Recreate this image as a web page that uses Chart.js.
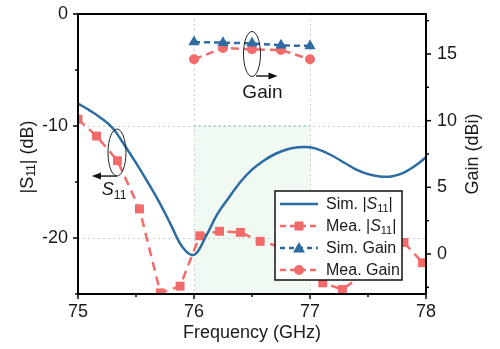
<!DOCTYPE html>
<html>
<head>
<meta charset="utf-8">
<script src="https://cdn.jsdelivr.net/npm/chart.js@4.4.0/dist/chart.umd.min.js"></script>
<style>
  html, body { margin: 0; padding: 0; background: #fff; }
</style>
</head>
<body>
<canvas id="chart" width="500" height="349"></canvas>
<script>
// --- data ---
const freqSim = [75.0, 75.1, 75.2, 75.3, 75.4, 75.5, 75.6, 75.7, 75.8, 75.9, 76.0,
  76.1, 76.2, 76.3, 76.4, 76.5, 76.6, 76.7, 76.8, 76.9, 77.0,
  77.1, 77.2, 77.3, 77.4, 77.5, 77.6, 77.7, 77.8, 77.9, 78.0];
const simS11 = [-8.0, -8.6, -9.3, -10.2, -11.7, -13.3, -15.0, -16.8, -18.8, -20.8, -21.5,
  -19.9, -17.9, -16.4, -15.0, -13.9, -13.1, -12.5, -12.1, -11.9, -11.9,
  -12.2, -12.7, -13.3, -13.9, -14.3, -14.5, -14.5, -14.2, -13.6, -12.8];

const freqMea = [75.0, 75.16, 75.34, 75.53, 75.71, 75.88, 76.05, 76.22, 76.40, 76.57,
  76.75, 76.93, 77.11, 77.28, 77.45, 77.63, 77.81, 77.97];
const meaS11 = [-9.4, -10.9, -13.1, -17.4, -24.9, -24.3, -19.8, -19.4, -19.5, -20.3,
  -20.8, -22.5, -24.0, -24.6, -23.3, -21.6, -20.4, -22.2];

const freqGain = [76.0, 76.25, 76.5, 76.75, 77.0];
const simGain = [15.9, 15.85, 15.8, 15.65, 15.6];
const meaGain = [14.6, 15.45, 15.35, 15.3, 14.6];

const freqTicks = [75, 76, 77, 78];
const freqMinor = [75.5, 76.5, 77.5];
const s11Ticks = [-20, -10, 0];
const s11Minor = [-25, -15, -5];
const gainTicks = [0, 5, 10, 15];
const gainMinor = [-2.5, 2.5, 7.5, 12.5, 17.5];
const gridFreq = [76, 77];
const gridS11 = [-10, -20];
const bandFreq = [76, 77];
const bandTop = -10;

const BLUE = '#2d6ca2';
const RED = '#f26a6a';
const FONT = '"Liberation Sans", Arial, sans-serif';
const TXT = '#1a1a1a';

const pts = (xs, ys) => xs.map((v, i) => ({ x: v, y: ys[i] }));

function line(ctx, x0, y0, x1, y1) {
  ctx.beginPath(); ctx.moveTo(x0, y0); ctx.lineTo(x1, y1); ctx.stroke();
}

function arrow(ctx, x0, y, x1) {
  const dir = Math.sign(x1 - x0);
  line(ctx, x0, y, x1 - dir * 6, y);
  ctx.beginPath();
  ctx.moveTo(x1, y);
  ctx.lineTo(x1 - dir * 9, y - 3.5);
  ctx.lineTo(x1 - dir * 9, y + 3.5);
  ctx.closePath();
  ctx.fill();
}

// draws text pieces [{t, italic, sub}] starting at x, baseline y; returns width
function rich(ctx, parts, x, y, size, measureOnly) {
  let cx = x;
  parts.forEach(p => {
    const fs = p.sub ? size * 0.68 : size;
    ctx.font = (p.italic ? 'italic ' : '') + fs + 'px ' + FONT;
    if (!measureOnly) ctx.fillText(p.t, cx, y + (p.sub ? size * 0.22 : 0));
    cx += ctx.measureText(p.t).width;
  });
  return cx - x;
}

const decor = {
  id: 'decor',
  beforeDatasetsDraw(chart) {
    const { ctx, chartArea: a, scales: { x, y } } = chart;
    ctx.save();
    const bx0 = x.getPixelForValue(bandFreq[0]);
    const bx1 = x.getPixelForValue(bandFreq[1]);
    const by = y.getPixelForValue(bandTop);
    ctx.fillStyle = '#f0f9f2';
    ctx.fillRect(bx0, by, bx1 - bx0, a.bottom - by);

    ctx.strokeStyle = '#cfcfcf';
    ctx.lineWidth = 1;
    ctx.setLineDash([2, 3]);
    gridFreq.forEach(v => {
      const px = Math.round(x.getPixelForValue(v)) + 0.5;
      line(ctx, px, a.top, px, a.bottom);
    });
    gridS11.forEach(v => {
      const py = Math.round(y.getPixelForValue(v)) + 0.5;
      line(ctx, a.left, py, a.right, py);
    });
    ctx.strokeStyle = '#a3d6ad';
    ctx.lineWidth = 1.5;
    line(ctx, bx0, by, bx1, by);
    ctx.restore();
  },
  afterDatasetsDraw(chart) {
    const { ctx, chartArea: a, scales: { x, y, y1 } } = chart;
    ctx.save();
    ctx.strokeStyle = '#000';
    ctx.fillStyle = '#000';
    ctx.lineWidth = 2;
    ctx.strokeRect(a.left, a.top, a.right - a.left, a.bottom - a.top);

    // tick marks, outward
    ctx.lineWidth = 1.5;
    freqTicks.forEach(v => { const p = x.getPixelForValue(v); line(ctx, p, a.bottom, p, a.bottom + 5); });
    freqMinor.forEach(v => { const p = x.getPixelForValue(v); line(ctx, p, a.bottom, p, a.bottom + 3); });
    s11Ticks.forEach(v => { const p = y.getPixelForValue(v); line(ctx, a.left, p, a.left - 5, p); });
    s11Minor.forEach(v => { const p = y.getPixelForValue(v); line(ctx, a.left, p, a.left - 3, p); });
    gainTicks.forEach(v => { const p = y1.getPixelForValue(v); line(ctx, a.right, p, a.right + 5, p); });
    gainMinor.forEach(v => { const p = y1.getPixelForValue(v); line(ctx, a.right, p, a.right + 3, p); });

    // S11 annotation
    ctx.strokeStyle = '#222';
    ctx.fillStyle = '#111';
    ctx.lineWidth = 1;
    const ex = x.getPixelForValue(75.336), ey = y.getPixelForValue(-12.37);
    ctx.beginPath(); ctx.ellipse(ex, ey, 9, 23.5, 0, 0, Math.PI * 2); ctx.stroke();
    ctx.lineWidth = 1.5;
    arrow(ctx, ex, ey + 23.5, x.getPixelForValue(75.12));
    ctx.fillStyle = TXT;
    ctx.textBaseline = 'alphabetic';
    ctx.textAlign = 'left';
    rich(ctx, [{ t: 'S', italic: true }, { t: '11', sub: true }], x.getPixelForValue(75.205), y.getPixelForValue(-16.15), 18);

    // Gain annotation
    ctx.lineWidth = 1;
    const gx = x.getPixelForValue(76.5), gy = y1.getPixelForValue(15.0);
    ctx.beginPath(); ctx.ellipse(gx, gy, 8.5, 22.5, 0, 0, Math.PI * 2); ctx.stroke();
    ctx.lineWidth = 1.5;
    ctx.fillStyle = '#111';
    arrow(ctx, gx + 4, gy + 22, x.getPixelForValue(76.72));
    ctx.fillStyle = TXT;
    ctx.font = '19px ' + FONT;
    ctx.textAlign = 'center';
    ctx.fillText('Gain', x.getPixelForValue(76.59), gy + 44);

    // legend
    const lx = a.right - 151, ly = a.bottom - 103, lw = 127, lh = 89;
    ctx.fillStyle = '#fff';
    ctx.fillRect(lx, ly, lw, lh);
    ctx.strokeStyle = '#111';
    ctx.lineWidth = 1.5;
    ctx.strokeRect(lx, ly, lw, lh);
    const rows = [
      { c: BLUE, dash: [], mk: null, label: [{ t: 'Sim. |' }, { t: 'S', italic: true }, { t: '11', sub: true }, { t: '|' }] },
      { c: RED, dash: [6, 4], mk: 'rect', label: [{ t: 'Mea. |' }, { t: 'S', italic: true }, { t: '11', sub: true }, { t: '|' }] },
      { c: BLUE, dash: [5, 4], mk: 'triangle', label: [{ t: 'Sim. Gain' }] },
      { c: RED, dash: [6, 4], mk: 'circle', label: [{ t: 'Mea. Gain' }] }
    ];
    ctx.textAlign = 'left';
    ctx.textBaseline = 'middle';
    rows.forEach((r, i) => {
      const ry = ly + 13 + i * 22;
      ctx.strokeStyle = r.c;
      ctx.fillStyle = r.c;
      ctx.lineWidth = 2.5;
      ctx.setLineDash(r.dash);
      line(ctx, lx + 5, ry, lx + 43, ry);
      ctx.setLineDash([]);
      const mx = lx + 24;
      if (r.mk === 'rect') ctx.fillRect(mx - 4.5, ry - 4.5, 9, 9);
      if (r.mk === 'circle') { ctx.beginPath(); ctx.arc(mx, ry, 5, 0, Math.PI * 2); ctx.fill(); }
      if (r.mk === 'triangle') {
        ctx.beginPath(); ctx.moveTo(mx, ry - 6); ctx.lineTo(mx + 6, ry + 4.5); ctx.lineTo(mx - 6, ry + 4.5); ctx.closePath(); ctx.fill();
      }
      ctx.fillStyle = TXT;
      rich(ctx, r.label, lx + 51, ry + 1, 16);
    });

    // axis titles
    ctx.fillStyle = TXT;
    ctx.textBaseline = 'middle';
    ctx.textAlign = 'center';
    ctx.font = '18px ' + FONT;
    ctx.fillText('Frequency (GHz)', (a.left + a.right) / 2, 333);

    const yParts = [{ t: '|S' }, { t: '11', sub: true }, { t: '| (dB)' }];
    ctx.save();
    ctx.translate(28, (a.top + a.bottom) / 2 + 3);
    ctx.rotate(-Math.PI / 2);
    ctx.textAlign = 'left';
    const w = rich(ctx, yParts, 0, 0, 18, true);
    rich(ctx, yParts, -w / 2, 0, 18);
    ctx.restore();

    ctx.save();
    ctx.translate(473, (a.top + a.bottom) / 2);
    ctx.rotate(-Math.PI / 2);
    ctx.font = '18px ' + FONT;
    ctx.textAlign = 'center';
    ctx.fillText('Gain (dBi)', 0, 0);
    ctx.restore();

    ctx.restore();
  }
};

const tickFont = { family: FONT, size: 18 };
const noPadY = s => { s.paddingTop = 0; s.paddingBottom = 0; };

new Chart(document.getElementById('chart'), {
  type: 'line',
  data: {
    datasets: [
      {
        label: 'Sim. Gain', data: pts(freqGain, simGain), yAxisID: 'y1', order: 0,
        borderColor: BLUE, backgroundColor: BLUE, borderWidth: 2.5, borderDash: [6, 4],
        pointStyle: 'triangle', pointRadius: 6.5, pointBorderWidth: 0, tension: 0
      },
      {
        label: 'Mea. Gain', data: pts(freqGain, meaGain), yAxisID: 'y1', order: 1,
        borderColor: RED, backgroundColor: RED, borderWidth: 2.5, borderDash: [8, 5],
        pointStyle: 'circle', pointRadius: 5, pointBorderWidth: 0, tension: 0
      },
      {
        label: 'Sim. |S11|', data: pts(freqSim, simS11), yAxisID: 'y', order: 2,
        borderColor: BLUE, borderWidth: 2.5, pointRadius: 0, tension: 0.4
      },
      {
        label: 'Mea. |S11|', data: pts(freqMea, meaS11), yAxisID: 'y', order: 3, clip: 0,
        borderColor: RED, backgroundColor: RED, borderWidth: 2.5, borderDash: [9, 6],
        pointStyle: 'rect', pointRadius: 6.3, pointBorderWidth: 0, tension: 0
      }
    ]
  },
  options: {
    responsive: false,
    animation: false,
    events: [],
    layout: { padding: { top: 14, left: 0, right: 0, bottom: 0 } },
    plugins: { legend: { display: false }, tooltip: { enabled: false } },
    scales: {
      x: {
        type: 'linear', min: 75, max: 78,
        afterBuildTicks: s => { s.ticks = freqTicks.map(v => ({ value: v })); },
        afterFit: s => { s.height = 55; s.paddingLeft = 0; s.paddingRight = 0; },
        grid: { display: false, drawTicks: false }, border: { display: false },
        ticks: { font: tickFont, color: TXT, padding: 7, maxRotation: 0 }
      },
      y: {
        position: 'left', min: -25, max: 0,
        afterBuildTicks: s => { s.ticks = s11Ticks.map(v => ({ value: v })); },
        afterFit: s => { s.width = 78; noPadY(s); },
        grid: { display: false, drawTicks: false }, border: { display: false },
        ticks: { font: tickFont, color: TXT, padding: 10 }
      },
      y1: {
        position: 'right', min: -3, max: 18,
        afterBuildTicks: s => { s.ticks = gainTicks.map(v => ({ value: v })); },
        afterFit: s => { s.width = 74; noPadY(s); },
        grid: { display: false, drawTicks: false }, border: { display: false },
        ticks: { font: tickFont, color: TXT, padding: 11 }
      }
    }
  },
  plugins: [decor]
});
</script>
</body>
</html>
